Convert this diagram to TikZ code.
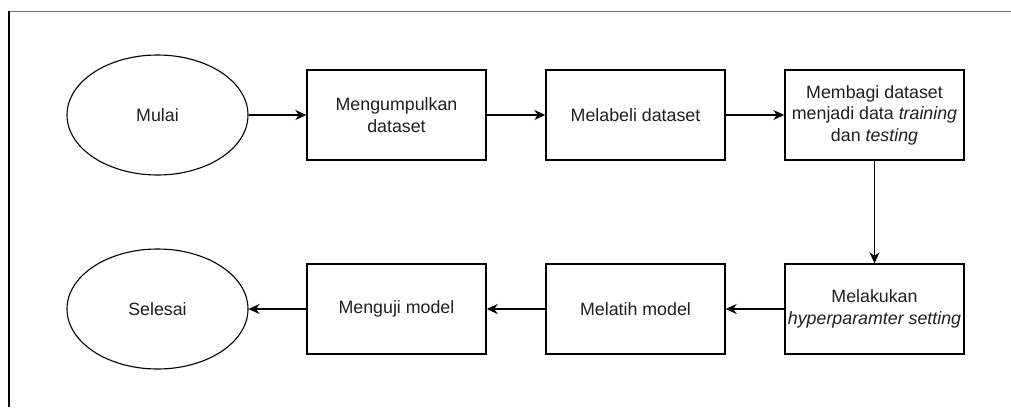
\documentclass[tikz,border=0pt]{standalone}
\usepackage{fontspec}
\setmainfont{Liberation Sans}
\usetikzlibrary{shapes.geometric,arrows.meta}
\begin{document}
\begin{tikzpicture}[x=1pt,y=-1pt,
  every node/.style={font=\fontsize{17.8}{21.5}\selectfont, text=black!88, align=center},
  termbox/.style={draw, ellipse, line width=1.1pt, minimum width=181pt, minimum height=120pt, inner sep=0pt},
  stepbox/.style={draw, rectangle, line width=1.4pt, minimum width=179pt, minimum height=90pt, inner sep=1pt},
  flow/.style={line width=1.4pt, -{Stealth[length=11pt,width=10pt,inset=3.5pt]}}]
\useasboundingbox (0,0) rectangle (1011,407);
\draw[line width=1pt, black!55] (8,11) -- (1011,11);
\draw[line width=2pt, black] (8.5,10.5) -- (8.5,407);
\node[termbox] (mulai) at (157.5,115) {Mulai};
\node[stepbox] (kumpul) at (396.5,115) {Mengumpulkan\\dataset};
\node[stepbox] (label) at (635.5,115) {Melabeli dataset};
\node[stepbox] (bagi) at (874.5,115) {Membagi dataset\\menjadi data \textit{training}\\dan \textit{testing}};
\node[stepbox] (hyper) at (874.5,309) {Melakukan\\\textit{hyperparamter setting}};
\node[stepbox] (latih) at (635.5,309) {Melatih model};
\node[stepbox] (uji) at (396.5,309) {Menguji model};
\node[termbox] (selesai) at (157.5,309) {Selesai};
\draw[flow] (mulai) -- (kumpul);
\draw[flow] (kumpul) -- (label);
\draw[flow] (label) -- (bagi);
\draw[flow] (bagi) -- (hyper);
\draw[flow] (hyper) -- (latih);
\draw[flow] (latih) -- (uji);
\draw[flow] (uji) -- (selesai);
\end{tikzpicture}
\end{document}
